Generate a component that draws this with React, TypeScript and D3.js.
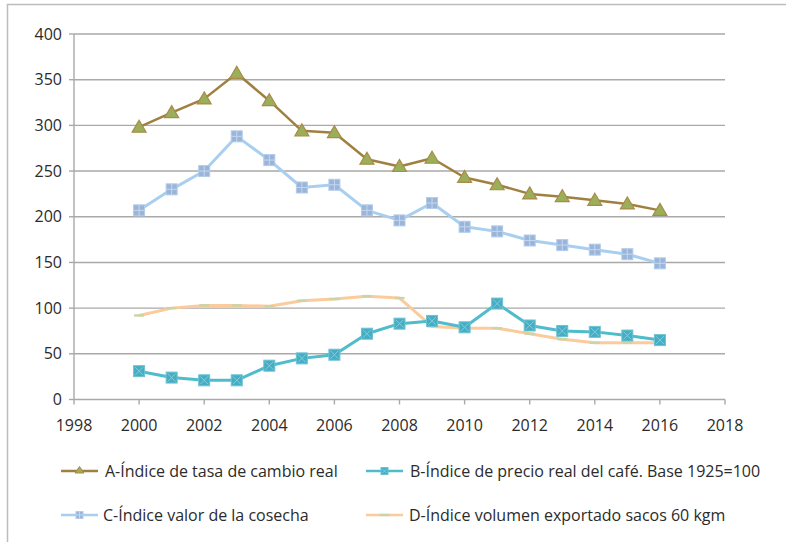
import React from "react";
import * as d3 from "d3";

const years = [2000, 2001, 2002, 2003, 2004, 2005, 2006, 2007, 2008, 2009, 2010, 2011, 2012, 2013, 2014, 2015, 2016];
const seriesA = [298, 314, 329, 357, 327, 294, 292, 263, 255, 264, 243, 235, 225, 222, 218, 214, 207];
const seriesB = [31, 24, 21, 21, 37, 45, 49, 72, 83, 86, 79, 105, 81, 75, 74, 70, 65];
const seriesC = [207, 230, 250, 288, 262, 232, 235, 207, 196, 215, 189, 184, 174, 169, 164, 159, 149];
const seriesD = [92, 100, 103, 103, 102, 108, 110, 113, 111, 80, 78, 78, 72, 66, 62, 62, 62];
const xTicks = [1998, 2000, 2002, 2004, 2006, 2008, 2010, 2012, 2014, 2016, 2018];
const yTicks = [0, 50, 100, 150, 200, 250, 300, 350, 400];
const labels = [
  "A-Índice de tasa de cambio real",
  "B-Índice de precio real del café. Base 1925=100",
  "C-Índice valor de la cosecha",
  "D-Índice volumen exportado sacos 60 kgm",
];

const FONT = "'Open Sans', 'DejaVu Sans', sans-serif";
const TEXT = "#2b2b2b";
const GRID = "#A9A9A9";

const x = d3.scaleLinear().domain([1998, 2018]).range([74, 725]);
const y = d3.scaleLinear().domain([0, 400]).range([399.5, 34]);

type Pt = [number, number];
const line = d3.line<Pt>().x((d) => x(d[0])).y((d) => y(d[1]));
const pts = (vals: number[]): Pt[] => years.map((yr, i) => [yr, vals[i]]);

const Triangle = ({ cx, cy }: { cx: number; cy: number }) => (
  <path
    d={`M${cx},${cy - 7}L${cx + 7},${cy + 5}L${cx - 7},${cy + 5}Z`}
    fill="#9AAF57"
    stroke="#A98B4B"
    strokeWidth={1.2}
  />
);
const SquareX = ({ cx, cy, s = 11 }: { cx: number; cy: number; s?: number }) => (
  <g>
    <rect x={cx - s / 2} y={cy - s / 2} width={s} height={s} fill="#46ADC4" stroke="#6CC3D3" strokeWidth={1} />
    <path
      d={`M${cx - s / 2 + 1.5},${cy - s / 2 + 1.5}L${cx + s / 2 - 1.5},${cy + s / 2 - 1.5}M${cx + s / 2 - 1.5},${cy - s / 2 + 1.5}L${cx - s / 2 + 1.5},${cy + s / 2 - 1.5}`}
      stroke="#7FCFDD"
      strokeWidth={1}
    />
  </g>
);
const SquarePlus = ({ cx, cy, s = 11 }: { cx: number; cy: number; s?: number }) => (
  <g>
    <rect x={cx - s / 2} y={cy - s / 2} width={s} height={s} fill="#9AB5DA" stroke="#B4CBE9" strokeWidth={1} />
    <path d={`M${cx},${cy - s / 2}V${cy + s / 2}M${cx - s / 2},${cy}H${cx + s / 2}`} stroke="#C5D7EE" strokeWidth={1} />
  </g>
);
const Dash = ({ cx, cy }: { cx: number; cy: number }) => (
  <rect x={cx - 5} y={cy - 1.2} width={10} height={2.4} fill="#C9D5A8" />
);

export default function App() {
  const pA = pts(seriesA);
  const pB = pts(seriesB);
  const pC = pts(seriesC);
  const pD = pts(seriesD);
  return (
    <svg
      width={786}
      height={542}
      style={{ position: "absolute", left: 0, top: 0, background: "#fff" }}
      fontFamily={FONT}
    >
      <rect x={7.5} y={4.5} width={900} height={700} fill="none" stroke="#BDBDBD" strokeWidth={1.5} />
      {yTicks.slice(1).map((t) => (
        <line key={t} x1={x(1998)} x2={x(2018)} y1={y(t)} y2={y(t)} stroke={GRID} strokeWidth={1.4} />
      ))}
      <line x1={x(1998)} x2={x(1998)} y1={y(400)} y2={y(0)} stroke={GRID} strokeWidth={1.4} />
      <line x1={x(1998)} x2={x(2018)} y1={y(0)} y2={y(0)} stroke={GRID} strokeWidth={1.6} />
      {yTicks.map((t) => (
        <g key={t}>
          <line x1={x(1998) - 5} x2={x(1998)} y1={y(t)} y2={y(t)} stroke={GRID} strokeWidth={1.4} />
          <text x={62} y={y(t) + 5.5} textAnchor="end" fontSize={16} fill={TEXT}>
            {t}
          </text>
        </g>
      ))}
      {xTicks.map((t) => (
        <g key={t}>
          <line x1={x(t)} x2={x(t)} y1={y(0)} y2={y(0) + 5} stroke={GRID} strokeWidth={1.4} />
          <text x={x(t)} y={431} textAnchor="middle" fontSize={16} fill={TEXT}>
            {t}
          </text>
        </g>
      ))}
      <path d={line(pD) || ""} fill="none" stroke="#FBCB9C" strokeWidth={3} strokeLinejoin="round" />
      {pD.map((d, i) => <Dash key={i} cx={x(d[0])} cy={y(d[1])} />)}
      <path d={line(pB) || ""} fill="none" stroke="#4EBCCB" strokeWidth={3} strokeLinejoin="round" />
      {pB.map((d, i) => <SquareX key={i} cx={x(d[0])} cy={y(d[1])} />)}
      <path d={line(pC) || ""} fill="none" stroke="#A9CFF0" strokeWidth={3} strokeLinejoin="round" />
      {pC.map((d, i) => <SquarePlus key={i} cx={x(d[0])} cy={y(d[1])} />)}
      <path d={line(pA) || ""} fill="none" stroke="#A08040" strokeWidth={2.5} strokeLinejoin="round" />
      {pA.map((d, i) => <Triangle key={i} cx={x(d[0])} cy={y(d[1])} />)}
      <g>
        <line x1={61} x2={98} y1={471} y2={471} stroke="#A08040" strokeWidth={2.5} />
        <path d="M79.5,466.5L84,473L75,473Z" fill="#9AAF57" stroke="#A98B4B" strokeWidth={1} />
        <text x={105} y={477} fontSize={16} fill={TEXT}>{labels[0]}</text>

        <line x1={366} x2={403} y1={471} y2={471} stroke="#4EBCCB" strokeWidth={2.5} />
        <SquareX cx={384.5} cy={471} s={7} />
        <text x={410} y={477} fontSize={16} fill={TEXT}>{labels[1]}</text>

        <line x1={61} x2={98} y1={515} y2={515} stroke="#A9CFF0" strokeWidth={2.5} />
        <SquarePlus cx={79.5} cy={515} s={7} />
        <text x={103} y={521} fontSize={16} fill={TEXT}>{labels[2]}</text>

        <line x1={366} x2={403} y1={515} y2={515} stroke="#FBCB9C" strokeWidth={2.5} />
        <Dash cx={384.5} cy={515} />
        <text x={409} y={521} fontSize={16} fill={TEXT}>{labels[3]}</text>
      </g>
    </svg>
  );
}
